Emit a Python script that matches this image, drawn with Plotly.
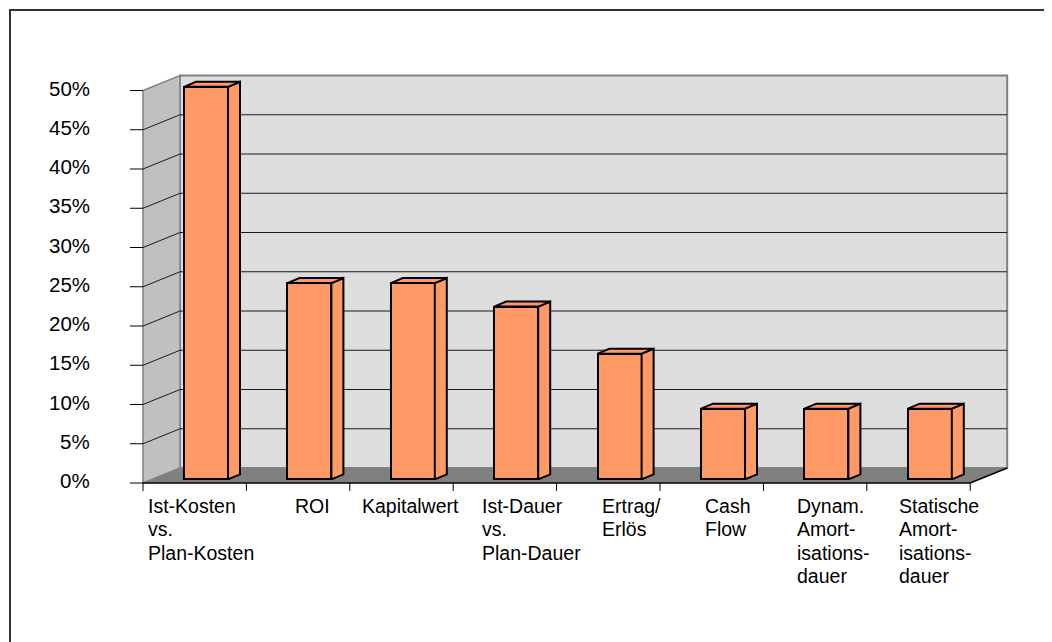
import plotly.graph_objects as go

# ---------------- data ----------------
categories = [
    "Ist-Kosten<br>vs.<br>Plan-Kosten",
    "ROI",
    "Kapitalwert",
    "Ist-Dauer<br>vs.<br>Plan-Dauer",
    "Ertrag/<br>Erlös",
    "Cash<br>Flow",
    "Dynam.<br>Amort-<br>isations-<br>dauer",
    "Statische<br>Amort-<br>isations-<br>dauer",
]
values = [50, 25, 25, 22, 16, 9, 9, 9]
y_ticks = [0, 5, 10, 15, 20, 25, 30, 35, 40, 45, 50]
y_tick_labels = [f"{t}%" for t in y_ticks]

# ---------------- geometry (screen pixels -> axis units) ----------------
W, H = 1052, 642                  # window
OFF = 8                           # page body margin
FW, FH = W - OFF, H - OFF         # figure size
X0_PX, CAT_PX = 143.0, 103.4      # front axis position, category width
Y0_PX, PCT_PX = 483.0, 7.85       # 0% baseline, pixels per percent
n = len(values)
ymax = y_ticks[-1]

DX, DY = 37 / CAT_PX, 15 / PCT_PX          # depth of the 3D box
FL, BW = 41 / CAT_PX, 44 / CAT_PX          # bar front-left offset, bar width
E = 3.7 / PCT_PX                            # bar front-face lift (depth)
SDX, SDY = 12 / CAT_PX, 5 / PCT_PX          # bar depth
label_left_px = [146, 293, 360, 480, 600, 703, 795, 897]
LABEL_TOP_PX = 493
LINE_PX = 23.4

BAR = "#FF9966"
FONT = "Liberation Sans, Arial, sans-serif"

fig = go.Figure()

# front faces of bars
fig.add_trace(go.Bar(
    x=[i + FL + BW / 2 for i in range(n)],
    y=values,
    base=[E] * n,
    width=BW,
    marker=dict(color=BAR, line=dict(color="black", width=2)),
    hoverinfo="skip",
    showlegend=False,
))

# side faces and top faces
sx, sy, tx, ty = [], [], [], []
for i, v in enumerate(values):
    x0 = i + FL
    x1 = x0 + BW
    top = E + v
    sx += [x1, x1 + SDX, x1 + SDX, x1, x1, None]
    sy += [E, E + SDY, top + SDY, top, E, None]
    tx += [x0, x1, x1 + SDX, x0 + SDX, x0, None]
    ty += [top, top, top + SDY, top + SDY, top, None]

for xs, ys in ((sx, sy), (tx, ty)):
    fig.add_trace(go.Scatter(
        x=xs, y=ys, mode="lines", fill="toself", fillcolor=BAR,
        line=dict(color="black", width=2), hoverinfo="skip", showlegend=False,
    ))

shapes = []
# back wall
shapes.append(dict(type="rect", xref="x", yref="y", x0=DX, x1=n + DX, y0=DY, y1=ymax + DY,
                   fillcolor="#DDDDDD", line=dict(color="#808080", width=2), layer="below"))
# side wall
shapes.append(dict(type="path", xref="x", yref="y",
                   path=f"M 0,0 L {DX},{DY} L {DX},{ymax + DY} L 0,{ymax} Z",
                   fillcolor="#C0C0C0", line=dict(color="#808080", width=1.5), layer="below"))
# floor
shapes.append(dict(type="path", xref="x", yref="y",
                   path=f"M 0,0 L {n},0 L {n + DX},{DY} L {DX},{DY} Z",
                   fillcolor="#808080", line=dict(width=0), layer="below"))
# gridlines
for t in y_ticks[1:-1]:
    shapes.append(dict(type="path", xref="x", yref="y",
                       path=f"M 0,{t} L {DX},{t + DY} L {n + DX},{t + DY}",
                       line=dict(color="#1a1a1a", width=1), layer="below"))
# floor outline (front and right edges)
shapes.append(dict(type="path", xref="x", yref="y",
                   path=f"M {n + DX},{DY} L {n},0 L 0,0",
                   line=dict(color="black", width=1.5), layer="below"))
# y ticks
for t in y_ticks:
    shapes.append(dict(type="line", xref="x", yref="y", x0=-13 / CAT_PX, x1=0, y0=t, y1=t,
                       line=dict(color="black", width=1), layer="below"))
# x ticks
for i in range(n + 1):
    shapes.append(dict(type="line", xref="x", yref="y", x0=i, x1=i, y0=0, y1=-8 / PCT_PX,
                       line=dict(color="black", width=1), layer="below"))
# outer chart border
shapes.append(dict(type="rect", xref="paper", yref="paper", x0=(10 - OFF) / FW, x1=1.05,
                   y0=-0.05, y1=1 - (10 - OFF) / FH, line=dict(color="#333333", width=2),
                   fillcolor="rgba(0,0,0,0)", layer="below"))

annotations = []
for t, lab in zip(y_ticks, y_tick_labels):
    annotations.append(dict(x=-(X0_PX - 92) / CAT_PX, y=t + 2.5 / PCT_PX, xref="x", yref="y",
                            text=lab, showarrow=False, xanchor="right", yanchor="middle",
                            font=dict(family=FONT, size=20.5, color="black")))
for lab, lp in zip(categories, label_left_px):
    for k, line in enumerate(lab.split("<br>")):
        annotations.append(dict(x=(lp - X0_PX) / CAT_PX,
                                y=-(LABEL_TOP_PX + k * LINE_PX - Y0_PX) / PCT_PX,
                                xref="x", yref="y", text=line, showarrow=False,
                                xanchor="left", yanchor="top", align="left",
                                font=dict(family=FONT, size=19.5, color="black")))

fig.update_layout(
    width=FW, height=FH, autosize=False,
    margin=dict(l=0, r=0, t=0, b=0),
    paper_bgcolor="white", plot_bgcolor="white",
    xaxis=dict(range=[(OFF - X0_PX) / CAT_PX, (OFF + FW - X0_PX) / CAT_PX],
               visible=False, fixedrange=True),
    yaxis=dict(range=[(Y0_PX - OFF - FH) / PCT_PX, (Y0_PX - OFF) / PCT_PX],
               visible=False, fixedrange=True),
    shapes=shapes, annotations=annotations,
    bargap=0, showlegend=False,
)

fig.write_html("out.html")
